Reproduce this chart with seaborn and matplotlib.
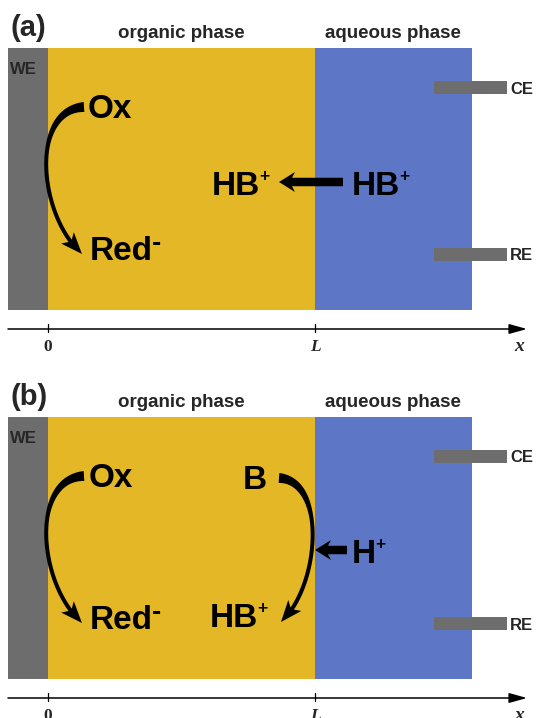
import numpy as np
import matplotlib
matplotlib.use("Agg")
import matplotlib.pyplot as plt
import seaborn as sns
import pandas as pd

# ---------------- content ----------------
panel_labels = ["(a)", "(b)"]
phase_labels = ["organic phase", "aqueous phase"]
electrode_labels = ["WE", "CE", "RE"]
axis_tick_labels = ["0", "L"]
axis_name = "x"
species_a = ["Ox", "Red", "HB", "HB"]
charges_a = ["", "-", "+", "+"]
species_b = ["Ox", "Red", "B", "HB", "H"]
charges_b = ["", "-", "", "+", "+"]

# ---------------- layout (pixel units) ----------------
W, H = 539, 718
panel_dy = [0, 369]
region_x = [8, 48, 315, 472]          # WE | organic | aqueous
region_y = [48, 310]
region_colors = ["#6d6d6d", "#e3b726", "#5d77c6"]
electrode_bar_x = [434, 507]
electrode_bar_y = [(81, 94), (248, 261)]
axis_y = 329
axis_x = [8, 527]
tick_x = [48, 315]

species_pos_a = [(88, 118), (90, 260), (212, 195), (352, 195)]
species_pos_b = [(89, 487), (90, 629), (243, 489), (210, 627), (352, 563)]

curly_a = [[(84, 107), (30, 110), (38, 215), (82, 254)]]
curly_b = [[(84, 476), (30, 479), (38, 584), (82, 623)],
           [(279, 478), (327, 481), (320, 586), (281, 622)]]
straight_a = [[(343, 182), (279, 182)]]
straight_b = [[(347, 550), (315, 550)]]

sns.set_theme(style="white")
plt.rcParams["font.family"] = ["Liberation Sans", "DejaVu Sans"]

fig = plt.figure(figsize=(W / 100, H / 100), dpi=100)
ax = fig.add_axes([0, 0, 1, 1])
ax.set_xlim(0, W)
ax.set_ylim(H, 0)
ax.axis("off")
renderer = fig.canvas.get_renderer()


def bezier(P, n=400):
    P = np.asarray(P, float)
    t = np.linspace(0, 1, n)[:, None]
    return ((1 - t) ** 3) * P[0] + 3 * ((1 - t) ** 2) * t * P[1] + 3 * (1 - t) * t ** 2 * P[2] + t ** 3 * P[3]


def tapered_arrow(P, w_start, w_mid, head_len, head_hw, notch):
    B = bezier(P)
    seg = np.hypot(*np.diff(B, axis=0).T)
    s = np.concatenate([[0], np.cumsum(seg)])
    L = s[-1]
    idx = np.searchsorted(s, L - head_len)
    shaft = B[: idx + 1]
    ss = s[: idx + 1] / L
    tang = np.gradient(shaft, axis=0)
    tang /= np.linalg.norm(tang, axis=1)[:, None]
    nrm = np.column_stack([-tang[:, 1], tang[:, 0]])
    w = w_mid + (w_start - w_mid) * np.clip(1 - ss / 0.35, 0, 1) ** 1.5
    left = shaft + nrm * w[:, None] / 2
    right = shaft - nrm * w[:, None] / 2
    base = shaft[-1]
    tip = B[-1]
    d = (tip - base) / np.linalg.norm(tip - base)
    n = np.array([-d[1], d[0]])
    poly = np.vstack([left,
                      [base - d * notch + n * head_hw],
                      [tip],
                      [base - d * notch - n * head_hw],
                      right[::-1]])
    ax.fill(poly[:, 0], poly[:, 1], color="black", lw=0, zorder=5)


def straight_arrow(p0, p1, width, head_len, head_hw, notch):
    p0 = np.asarray(p0, float)
    p1 = np.asarray(p1, float)
    P = [p0, p0 + (p1 - p0) / 3, p0 + 2 * (p1 - p0) / 3, p1]
    tapered_arrow(P, width, width, head_len, head_hw, notch)


def species_text(x, yb, base, sup, size=24):
    t = ax.text(x, yb, base, fontsize=size, fontweight="bold", va="baseline",
                ha="left", color="black", zorder=6)
    if sup:
        bb = t.get_window_extent(renderer)
        x1 = bb.x1
        if sup == "+":
            ax.text(x1 - 1, yb - 14, "+", fontsize=12.5, fontweight="bold",
                    va="baseline", ha="left", color="black", zorder=6)
        else:
            ax.text(x1 - 1, yb - 9, "-", fontsize=20, fontweight="bold",
                    va="baseline", ha="left", color="black", zorder=6)


for k, dy in enumerate(panel_dy):
    # regions
    for i in range(3):
        ax.add_patch(plt.Rectangle((region_x[i], region_y[0] + dy),
                                   region_x[i + 1] - region_x[i],
                                   region_y[1] - region_y[0],
                                   facecolor=region_colors[i], edgecolor="none", zorder=1))
    # electrodes CE / RE
    for j, (y0, y1) in enumerate(electrode_bar_y):
        ax.add_patch(plt.Rectangle((electrode_bar_x[0], y0 + dy),
                                   electrode_bar_x[1] - electrode_bar_x[0], y1 - y0,
                                   facecolor=region_colors[0], edgecolor="none", zorder=2))
        ax.text(electrode_bar_x[1] + 3, y1 + dy - 0.5, electrode_labels[j + 1],
                fontsize=12, fontweight="bold", va="baseline", ha="left")
    ax.text(10, 74 + dy, electrode_labels[0], fontsize=12, fontweight="bold",
            va="baseline", ha="left", zorder=3)

    # titles
    ax.text(11, 36 + dy, panel_labels[k], fontsize=21, fontweight="bold",
            va="baseline", ha="left")
    ax.text(181, 38 + dy, phase_labels[0], fontsize=13.5, fontweight="bold",
            va="baseline", ha="center")
    ax.text(393, 38 + dy, phase_labels[1], fontsize=13.5, fontweight="bold",
            va="baseline", ha="center")

    # x axis
    ay = axis_y + dy
    df = pd.DataFrame({"x": [axis_x[0], axis_x[1] - 8], "y": [ay, ay]})
    sns.lineplot(data=df, x="x", y="y", color="black", lw=1.1, ax=ax, zorder=3)
    ax.annotate("", xy=(axis_x[1], ay), xytext=(axis_x[1] - 10, ay),
                arrowprops=dict(arrowstyle="-|>,head_length=0.9,head_width=0.25",
                                color="black", lw=1.1, shrinkA=0, shrinkB=0))
    for tx, lab in zip(tick_x, axis_tick_labels):
        ax.plot([tx, tx], [ay - 5, ay + 3], color="black", lw=0.9, zorder=3)
        ax.text(tx, ay + 22, lab, fontsize=12.5, fontweight="bold",
                style="italic" if lab != "0" else "normal",
                family="Liberation Serif", va="baseline", ha="center")
    ax.text(519, ay + 22, axis_name, fontsize=14, fontweight="bold", style="italic",
            family="Liberation Serif", va="baseline", ha="center")

ax.set_xlim(0, W)
ax.set_ylim(H, 0)
ax.axis("off")

# species
for (x, yb), s, c in zip(species_pos_a, species_a, charges_a):
    species_text(x, yb, s, c)
for (x, yb), s, c in zip(species_pos_b, species_b, charges_b):
    species_text(x, yb, s, c)

# arrows
for P in curly_a + curly_b:
    tapered_arrow(P, w_start=10, w_mid=4, head_len=18, head_hw=8.5, notch=4)
for p0, p1 in straight_a + straight_b:
    straight_arrow(p0, p1, width=8.5, head_len=13, head_hw=10, notch=3)

fig.savefig("out.png", dpi=100)
